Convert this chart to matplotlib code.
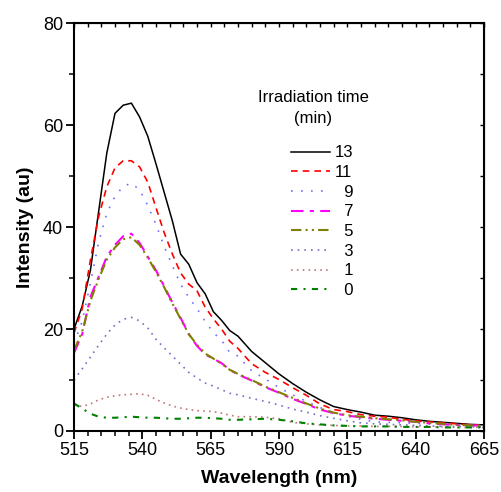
import matplotlib
matplotlib.use("Agg")
import matplotlib.pyplot as plt
from matplotlib.ticker import MultipleLocator

plt.rcParams['font.family'] = ['Liberation Sans', 'DejaVu Sans']

# wavelength grid (nm)
wavelength = [515, 518, 521, 524, 527, 530, 533, 536, 539, 542, 545, 548, 551, 554,
              557, 560, 563, 566, 569, 572, 575, 580, 585, 590, 595, 600, 605, 610,
              615, 620, 625, 630, 635, 640, 645, 650, 655, 660, 665]

# intensity for each irradiation time (min)
t13 = [20.0, 24.5, 31.5, 43.0, 54.5, 62.3, 63.9, 64.3, 61.6, 57.8, 52.4, 46.8, 41.2, 34.7,
       32.7, 29.1, 26.9, 23.4, 21.7, 19.7, 18.6, 15.6, 13.4, 11.2, 9.3, 7.6, 6.1, 4.8,
       4.2, 3.7, 3.1, 2.9, 2.6, 2.2, 1.9, 1.7, 1.5, 1.3, 1.2]
t11 = [19.2, 24.0, 33.5, 42.0, 47.9, 51.6, 53.0, 53.0, 51.8, 48.8, 43.8, 38.9, 34.7, 31.0,
       28.8, 27.5, 24.3, 22.0, 20.0, 17.6, 16.2, 13.2, 11.5, 10.1, 8.5, 7.0, 5.3, 4.2,
       3.8, 3.2, 2.9, 2.7, 2.3, 2.0, 1.8, 1.6, 1.4, 1.2, 1.1]
t9 = [17.2, 21.5, 29.0, 37.0, 42.7, 46.0, 48.0, 48.6, 47.3, 44.2, 40.5, 36.2, 32.4, 28.8,
      26.2, 24.0, 21.5, 19.3, 17.8, 15.4, 14.7, 11.8, 10.2, 8.5, 7.1, 5.8, 4.6, 3.6,
      2.9, 2.3, 1.8, 1.7, 1.6, 1.5, 1.4, 1.3, 1.2, 1.1, 1.0]
t7 = [15.3, 19.0, 26.3, 30.2, 34.2, 36.5, 38.2, 38.7, 36.9, 34.2, 31.5, 28.4, 25.2, 22.2,
      19.0, 16.7, 15.0, 14.2, 13.3, 12.0, 11.1, 9.9, 8.6, 7.5, 6.3, 5.3, 4.2, 3.5,
      3.0, 2.7, 2.4, 2.2, 2.0, 1.8, 1.5, 1.3, 1.2, 1.1, 1.0]
t5 = [15.8, 19.5, 25.5, 29.8, 33.6, 36.0, 37.6, 38.0, 36.5, 34.0, 31.2, 28.2, 25.0, 22.0,
      19.0, 16.9, 15.2, 14.2, 13.2, 12.0, 11.2, 10.0, 8.7, 7.6, 6.5, 5.4, 4.4, 3.6,
      3.1, 2.8, 2.5, 2.3, 2.1, 1.8, 1.6, 1.4, 1.2, 1.1, 1.0]
t3 = [10.0, 12.2, 14.5, 16.8, 19.0, 20.8, 21.9, 22.3, 21.6, 20.2, 18.0, 16.3, 14.7, 13.1,
      11.5, 10.4, 9.4, 8.8, 8.1, 7.4, 7.1, 6.4, 5.8, 5.1, 4.3, 3.7, 3.0, 2.5,
      2.0, 1.6, 1.4, 1.3, 1.2, 1.1, 1.0, 0.9, 0.9, 0.8, 0.8]
t1 = [5.1, 4.8, 5.3, 6.1, 6.6, 6.9, 7.1, 7.2, 7.3, 7.0, 6.2, 5.5, 4.9, 4.5,
      4.2, 4.0, 3.9, 3.8, 3.5, 3.1, 2.8, 2.8, 2.7, 2.4, 1.7, 1.4, 1.2, 1.1,
      1.0, 1.0, 0.9, 0.9, 0.9, 0.8, 0.8, 0.8, 0.7, 0.7, 0.7]
t0 = [5.4, 4.4, 3.4, 2.8, 2.6, 2.6, 2.7, 2.8, 2.7, 2.6, 2.6, 2.5, 2.4, 2.4,
      2.5, 2.6, 2.6, 2.5, 2.4, 2.2, 2.2, 2.3, 2.4, 2.2, 1.9, 1.5, 1.3, 1.1,
      1.0, 0.9, 0.9, 0.9, 0.8, 0.8, 0.8, 0.7, 0.7, 0.7, 0.7]

labels = ['13', '11', '  9', '  7', '  5', '  3', '  1', '  0']
series = [t13, t11, t9, t7, t5, t3, t1, t0]
colors = ['black', '#ff0000', '#7070ff', '#ff00ff', '#808000', '#7070c8', '#c07878', '#008000']
styles = ['-', (0, (4, 3)), (0, (1, 5)), (0, (6, 3, 2, 3)), (0, (5, 2, 1, 2, 1, 2)),
          (0, (1, 3)), (0, (1, 2.5)), (0, (3, 3, 1, 3))]
widths = [1.1, 1.2, 1.2, 1.5, 1.5, 1.2, 1.2, 1.5]


def main():
	fig = plt.figure(figsize=(5.02, 4.92), dpi=100)
	ax = fig.add_axes([0.1474, 0.124, 0.8166, 0.829])

	for y, lab, c, ls, lw in zip(series, labels, colors, styles, widths):
		ax.plot(wavelength, y, color=c, linestyle=ls, linewidth=lw, label=lab)

	ax.set_xlim(515, 665)
	ax.set_ylim(0, 80)
	ax.set_xticks(range(515, 666, 25))
	ax.set_xticks(range(515, 666, 5), minor=True)
	ax.yaxis.set_major_locator(MultipleLocator(20))
	ax.yaxis.set_minor_locator(MultipleLocator(10))
	ax.tick_params(which='major', direction='out', length=6, width=1.3, labelsize=13, pad=2)
	ax.tick_params(which='minor', direction='out', length=3.5, width=1.1)
	for s in ax.spines.values():
		s.set_linewidth(1.5)

	# mirrored inward ticks on top and right
	top = ax.secondary_xaxis('top')
	top.set_xticks(range(515, 666, 5))
	top.tick_params(direction='in', length=3, width=1, labeltop=False)
	right = ax.secondary_yaxis('right')
	right.yaxis.set_major_locator(MultipleLocator(10))
	right.tick_params(direction='in', length=3, width=1, labelright=False)

	ax.set_xlabel('Wavelength (nm)', fontsize=14, fontweight='bold', labelpad=8)
	ax.set_ylabel('Intensity (au)', fontsize=14, fontweight='bold', labelpad=6)

	ax.text(0.583, 0.793, 'Irradiation time\n(min)', transform=ax.transAxes,
			ha='center', va='center', fontsize=12, linespacing=1.5)
	ax.legend(loc='upper left', bbox_to_anchor=(0.53, 0.70), frameon=False,
			  fontsize=12, handlelength=2.3, handletextpad=0.3, labelspacing=0.28,
			  borderpad=0, borderaxespad=0)

	fig.savefig('out.png', dpi=100)


if __name__ == "__main__":
	main()
